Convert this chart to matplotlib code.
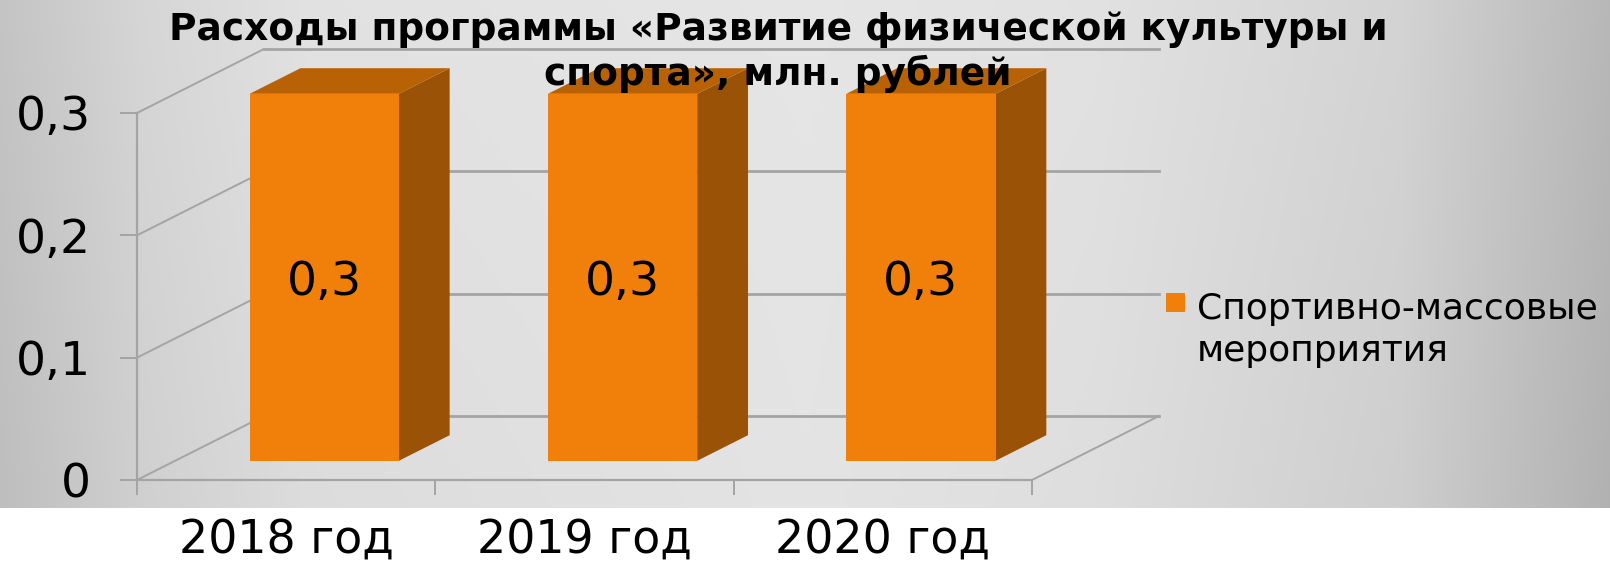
import numpy as np
import matplotlib
matplotlib.use("Agg")
import matplotlib.pyplot as plt
from matplotlib.patches import Polygon, Rectangle

# ---- data ----
categories = ["2018 год", "2019 год", "2020 год"]
values = [0.3, 0.3, 0.3]
y_ticks = [0.0, 0.1, 0.2, 0.3]
y_tick_labels = ["0", "0,1", "0,2", "0,3"]
series_name = "Спортивно-массовые\nмероприятия"
title = "Расходы программы «Развитие физической культуры и\nспорта», млн. рублей"

# ---- style ----
W, H, DPI = 1610, 565, 100
FRONT = "#F0800A"
TOP = "#B86205"
SIDE = "#9A5207"
GRID = "#a4a4a4"
plt.rcParams["font.family"] = ["DejaVu Sans"]

fig = plt.figure(figsize=(W / DPI, H / DPI), dpi=DPI)
fig.patch.set_facecolor("white")

# background gradient panel
bg_top = 508
bgax = fig.add_axes([0, 1 - bg_top / H, 1, bg_top / H])
xs = np.linspace(0, 1, 400)
ys = np.linspace(0, 1, 100)
cx = [0.0, 0.09, 0.19, 0.5, 0.68, 0.87, 1.0]
cv = [0.77, 0.84, 0.885, 0.90, 0.885, 0.83, 0.72]
prof = np.interp(xs, cx, cv)
vert = 1.0 - 0.025 * ys[:, None] * (0.3 + np.abs(xs[None, :] - 0.5) * 2)
grad = np.clip(prof[None, :] * vert, 0, 1)
bgax.imshow(np.dstack([grad] * 3), aspect="auto", extent=(0, 1, 0, 1), origin="upper")
bgax.set_axis_off()

# main axes (front plane)
ax = fig.add_axes([137 / W, (H - 480) / H, 895 / W, 367 / H])
ax.set_facecolor("none")
ax.set_xlim(0, 3)
ax.set_ylim(0, 0.3)
ncat = len(categories)

# oblique depth offsets in data units
KX = 127 / (895 / 3)
KY = 64 / (367 / 0.3)


def P(x, y, d):
    return (x + d * KX, y + d * KY)


# walls / gridlines
for v in y_ticks:
    ax.plot(*zip(P(0, v, 0), P(0, v, 1)), color=GRID, lw=1.4, clip_on=False, zorder=1)
    ax.plot(*zip(P(0, v, 1), P(ncat, v, 1)), color=GRID, lw=2.0, clip_on=False, zorder=1)
ax.plot(*zip(P(ncat, 0, 0), P(ncat, 0, 1)), color=GRID, lw=1.4, clip_on=False, zorder=1)

# bars
bw = 0.5
d0, d1 = 0.3, 0.7
for i, v in enumerate(values):
    x0 = i + (1 - bw) / 2
    x1 = x0 + bw
    side = [P(x1, 0, d0), P(x1, 0, d1), P(x1, v, d1), P(x1, v, d0)]
    top = [P(x0, v, d0), P(x1, v, d0), P(x1, v, d1), P(x0, v, d1)]
    front = [P(x0, 0, d0), P(x1, 0, d0), P(x1, v, d0), P(x0, v, d0)]
    ax.add_patch(Polygon(side, closed=True, fc=SIDE, ec="none", clip_on=False, zorder=3))
    ax.add_patch(Polygon(top, closed=True, fc=TOP, ec="none", clip_on=False, zorder=3))
    ax.add_patch(Polygon(front, closed=True, fc=FRONT, ec="none", clip_on=False, zorder=4))
    cxp, cyp = P((x0 + x1) / 2, v / 2, d0)
    ax.text(cxp, cyp, f"{v:.1f}".replace(".", ","), ha="center", va="center_baseline",
            fontsize=34, color="black", zorder=5)

# front axis lines
for s in ["top", "right"]:
    ax.spines[s].set_visible(False)
for s in ["left", "bottom"]:
    ax.spines[s].set_color(GRID)
    ax.spines[s].set_linewidth(1.6)
    ax.spines[s].set_zorder(2)

ax.set_yticks(y_ticks)
ax.set_yticklabels(y_tick_labels)
ax.tick_params(axis="y", direction="out", length=12, width=1.4, color=GRID,
               labelsize=34, pad=21)
ax.set_xticks(np.arange(ncat + 1))
ax.set_xticklabels([])
ax.set_xticks(np.arange(ncat) + 0.5, minor=True)
ax.set_xticklabels(categories, minor=True)
ax.tick_params(axis="x", which="major", direction="out", length=11, width=1.4, color=GRID)
ax.tick_params(axis="x", which="minor", length=0, labelsize=33, pad=27)

# legend (swatch aligned with first text line, as in the reference)
fig.patches.append(Rectangle((1166 / W, 1 - 312 / H), 19 / W, 19 / H,
                             transform=fig.transFigure, fc=FRONT, ec="none"))
fig.text(1197 / W, 1 - 361 / H, series_name, ha="left", va="baseline",
         fontsize=26, linespacing=1.31)

# title
fig.text(778 / W, 1 - 12 / H, title, ha="center", va="top", ma="center",
         fontsize=27, fontweight="bold", linespacing=1.2)

fig.savefig("out.png", dpi=DPI)
